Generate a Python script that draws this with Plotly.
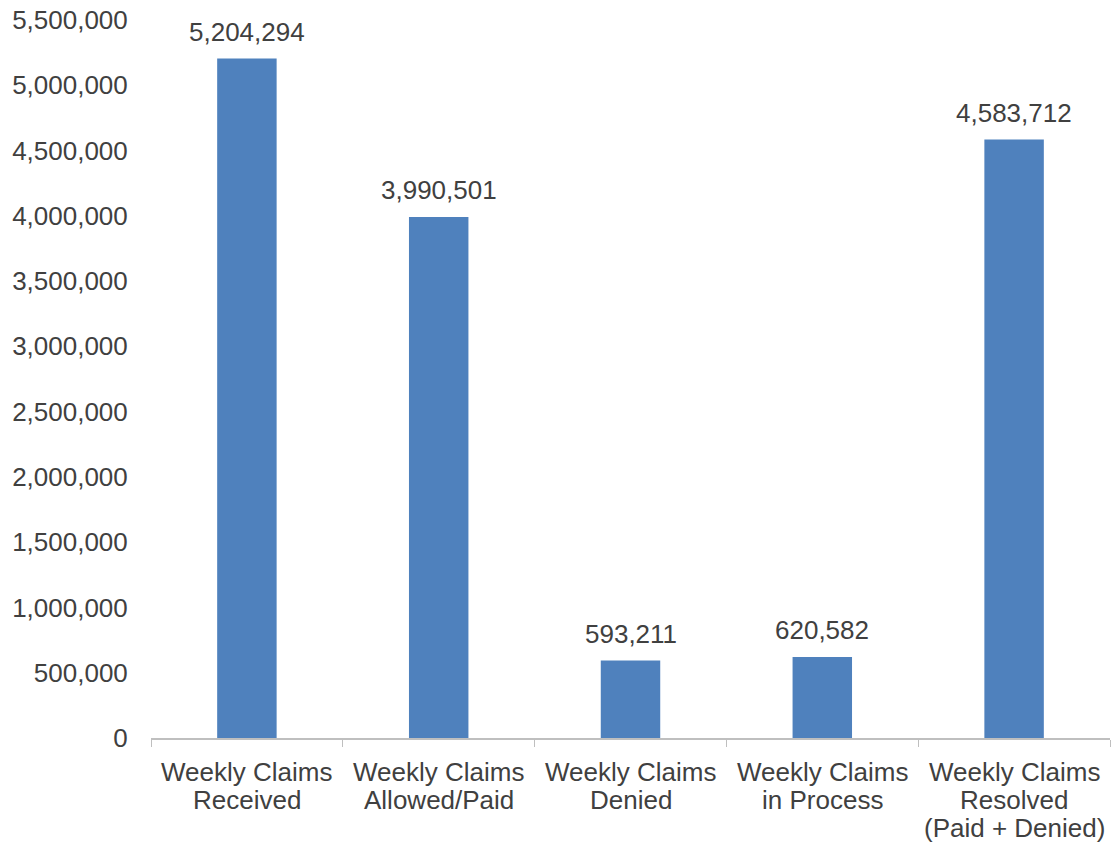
import plotly.graph_objects as go

categories = ["Received", "Allowed/Paid", "Denied", "in Process", "Resolved"]
label_lines = [
    ["Weekly Claims", "Received"],
    ["Weekly Claims", "Allowed/Paid"],
    ["Weekly Claims", "Denied"],
    ["Weekly Claims", "in Process"],
    ["Weekly Claims", "Resolved", "(Paid + Denied)"],
]
values = [5204294, 3990501, 593211, 620582, 4583712]
y_ticks = list(range(0, 5500001, 500000))

FONT = "Liberation Sans, Arial, sans-serif"
TXT = "#404040"

fig = go.Figure()
fig.add_trace(go.Bar(
    x=categories, y=values,
    marker=dict(color="#4F81BD", line=dict(width=0)),
    width=0.31,
    hoverinfo="skip",
))

for c, v in zip(categories, values):
    fig.add_annotation(
        x=c, y=v, text=f"{v:,}", showarrow=False,
        yanchor="bottom", yshift=10,
        font=dict(family=FONT, size=26, color=TXT),
    )

for c, lines in zip(categories, label_lines):
    for i, line in enumerate(lines):
        fig.add_annotation(
            x=c, xref="x", y=0, yref="paper", text=line, showarrow=False,
            yanchor="middle", yshift=-34 - 28 * i,
            font=dict(family=FONT, size=26, color=TXT),
        )

fig.update_layout(
    width=1115, height=847,
    margin=dict(l=151, r=5, t=20, b=109),
    plot_bgcolor="white", paper_bgcolor="white",
    showlegend=False,
    font=dict(family=FONT, size=26, color=TXT),
)
fig.update_xaxes(
    tickmode="array", tickvals=categories, showticklabels=False,
    tickson="boundaries", ticks="outside", ticklen=7, tickcolor="#BFBFBF",
    showline=True, linecolor="#BFBFBF", linewidth=1.5,
    showgrid=False,
    range=[-0.5, 4.5], automargin=False,
)
fig.update_yaxes(
    range=[0, 5500000], tickmode="array", tickvals=y_ticks,
    ticktext=[f"{t:,}" for t in y_ticks],
    showgrid=False, zeroline=False, showline=False,
    ticks="outside", ticklen=17, tickcolor="rgba(0,0,0,0)",
    tickfont=dict(family=FONT, size=26, color=TXT),
    ticklabeloverflow="allow",
    automargin=False,
)

fig.write_html(
    "out.html",
    config={"displayModeBar": False},
    post_script="document.body.style.margin='0';document.body.style.overflow='hidden';",
)
